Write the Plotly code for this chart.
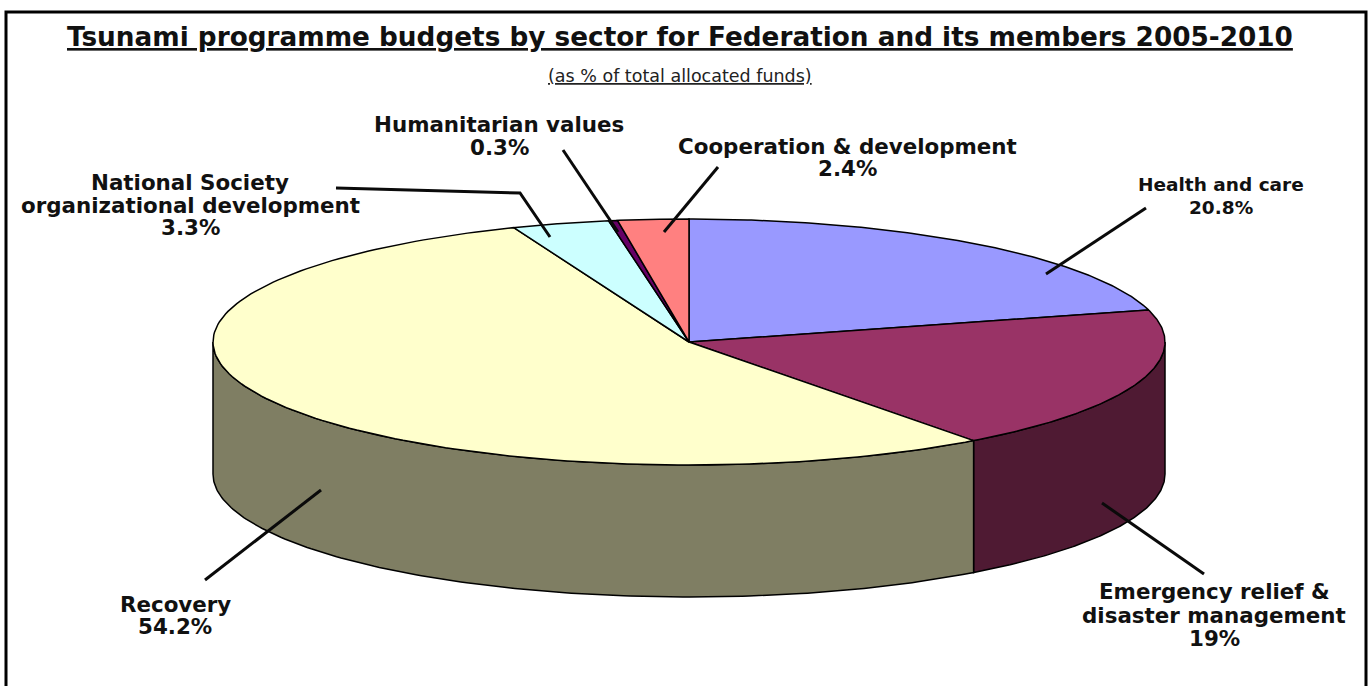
import numpy as np
import plotly.graph_objects as go

# ---- data ----
sectors = ["Health and care", "Emergency relief & disaster management", "Recovery",
           "National Society organizational development", "Humanitarian values",
           "Cooperation & development"]
shares = [20.8, 19.0, 54.2, 3.3, 0.3, 2.4]
share_labels = ["20.8%", "19%", "54.2%", "3.3%", "0.3%", "2.4%"]
top_colors = ["#9999FF", "#993366", "#FFFFCC", "#CCFFFF", "#660066", "#FF8080"]
side_colors = ["#4D4D80", "#4F1A33", "#7F7E63", "#668080", "#330033", "#804040"]

title_text = "Tsunami programme budgets by sector for Federation and its members 2005-2010"
subtitle_text = "(as % of total allocated funds)"

label_lines = [
    ["Health and care", "20.8%"],
    ["Emergency relief &", "disaster management", "19%"],
    ["Recovery", "54.2%"],
    ["National Society", "organizational development", "3.3%"],
    ["Humanitarian values", "0.3%"],
    ["Cooperation & development", "2.4%"],
]

# ---- layout geometry of the tilted disc (page pixels) ----
W, H = 1371, 686
CX, CY, RX, RY, DEPTH = 689.0, 342.0, 476.0, 123.0, 132.0
label_x = [1221, 1214, 175, 190, 499, 847]
label_size = [18.5, 21.4, 21.4, 21.4, 21.4, 21.4]
label_line_y = [[184, 207], [591, 615, 638], [604, 626], [182, 205, 227], [124, 147], [146, 168]]
leaders = [
    [(1146, 208), (1046, 274)],
    [(1102, 503), (1204, 574)],
    [(205, 580), (321, 490)],
    [(336, 188), (520, 193), (550, 237)],
    [(563, 150), (618, 232)],
    [(718, 167), (664, 232)],
]

fig = go.Figure()


def rim(a0, a1, dz=0.0, n=160):
    t = np.radians(np.linspace(a0, a1, n))
    return CX + RX * np.sin(t), CY - RY * np.cos(t) + dz


edges = 360.0 * np.concatenate([[0.0], np.cumsum(shares)]) / float(np.sum(shares))

# visible wall: the front half of the disc
for i in range(len(shares)):
    a0, a1 = max(edges[i], 90.0), min(edges[i + 1], 270.0)
    if a1 <= a0:
        continue
    xt, yt = rim(a0, a1)
    xb, yb = rim(a1, a0, DEPTH)
    fig.add_trace(go.Scatter(
        x=np.r_[xt, xb, xt[0]], y=np.r_[yt, yb, yt[0]], mode="lines", fill="toself",
        fillcolor=side_colors[i], line=dict(color="#000000", width=1.5),
        name=sectors[i], showlegend=False, hoverinfo="name"))

# top face
for i in range(len(shares)):
    xt, yt = rim(edges[i], edges[i + 1])
    fig.add_trace(go.Scatter(
        x=np.r_[CX, xt, CX], y=np.r_[CY, yt, CY], mode="lines", fill="toself",
        fillcolor=top_colors[i], line=dict(color="#000000", width=1.5),
        name=sectors[i], text=share_labels[i], showlegend=False, hoverinfo="name+text"))

# leader lines
for pts in leaders:
    fig.add_trace(go.Scatter(
        x=[p[0] for p in pts], y=[p[1] for p in pts], mode="lines",
        line=dict(color="#0A0A0A", width=3), showlegend=False, hoverinfo="skip"))

FONT = "DejaVu Sans"
ann = [
    dict(x=680, y=37, text="<b><u>%s</u></b>" % title_text, font=dict(size=26.3, family=FONT, color="#111111")),
    dict(x=680, y=76, text="<u>%s</u>" % subtitle_text, font=dict(size=17.5, family=FONT, color="#222222")),
]
for lines, x, ys, sz in zip(label_lines, label_x, label_line_y, label_size):
    for t, y in zip(lines, ys):
        ann.append(dict(x=x, y=y, text="<b>%s</b>" % t, font=dict(size=sz, family=FONT, color="#111111")))
for a in ann:
    a.update(xref="x", yref="y", showarrow=False, xanchor="center", yanchor="middle", align="center")

fig.update_layout(
    width=W, height=H, margin=dict(l=0, r=0, t=0, b=0),
    paper_bgcolor="#FFFFFF", plot_bgcolor="#FFFFFF", showlegend=False,
    xaxis=dict(range=[0, W], visible=False, fixedrange=True),
    yaxis=dict(range=[H, 0], visible=False, fixedrange=True),
    annotations=ann,
    shapes=[dict(type="rect", xref="x", yref="y", x0=6, y0=12, x1=1366, y1=H + 20,
                 line=dict(color="#000000", width=3), layer="below")],
)
fig.write_html("out.html", config=dict(displayModeBar=False),
               post_script="document.body.style.margin='0';")
